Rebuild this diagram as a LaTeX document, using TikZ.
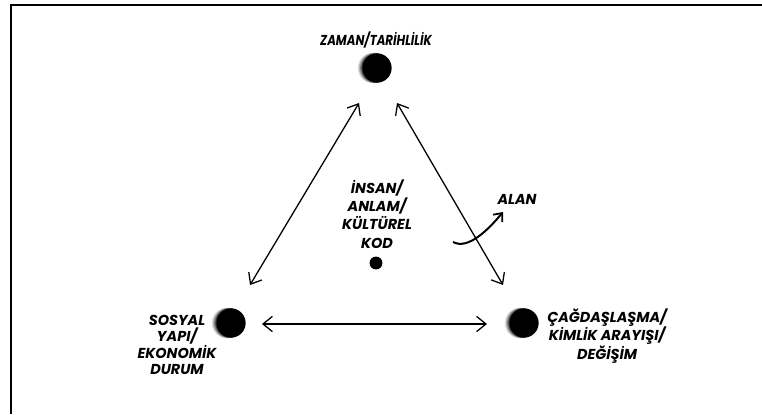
\documentclass[tikz,border=0pt]{standalone}
\usepackage{fontspec}
\setmainfont{Poppins}
\usetikzlibrary{arrows.meta}
\tikzset{
  lbl/.style={font=\fontsize{12.3}{13.3}\selectfont\bfseries\itshape, align=center, inner sep=0pt},
  biarrow/.style={line width=1.1pt, {Straight Barb[length=8pt,width=13pt,line width=1.1pt]}-{Straight Barb[length=8pt,width=13pt,line width=1.1pt]}},
  bigdot/.style={circle, fill=black, minimum size=25pt, inner sep=0pt},
}
\newcommand{\shadowdot}[2]{%
  \foreach \k/\o in {4/0.12,3/0.2,2/0.3,1/0.45}{
    \fill[black, opacity=\o] (#1-\k,#2) circle (14.5+0.2*\k);
  }
}
\begin{document}
\begin{tikzpicture}[x=0.03cm, y=-0.03cm]
\useasboundingbox (0,0) rectangle (762,414);
\draw[line width=1.6pt] (11,414) -- (11,5) -- (762,5);

% shadows
\shadowdot{377}{68}
\shadowdot{231}{323}
\shadowdot{524}{323}
\node[bigdot] (top) at (377,68) {};
\node[bigdot] (left) at (231,323) {};
\node[bigdot] (right) at (524,323) {};
\node[circle, fill=black, minimum size=11pt, inner sep=0pt] (center) at (376,263) {};

\node[lbl] (ttop) at (376,40) {\scalebox{0.82}[1]{ZAMAN/TARİHLİLİK}};
\node[lbl, font=\fontsize{12.3}{15.5}\selectfont\bfseries\itshape] (tcenter) at (377,214) {İNSAN/\\ANLAM/\\KÜLTÜREL\\KOD};
\node[lbl] (tleft) at (177,345) {SOSYAL\\YAPI/\\EKONOMİK\\DURUM};
\node[lbl] (tright) at (607,336) {ÇAĞDAŞLAŞMA/\\KİMLİK ARAYIŞI/\\DEĞİŞİM};
\node[lbl] (talan) at (517,199) {ALAN};

\coordinate (l1) at (250,285);
\coordinate (l2) at (359,103);
\coordinate (r1) at (397,103);
\coordinate (r2) at (503,285);
\coordinate (h1) at (262,324);
\coordinate (h2) at (487,324);
\draw[biarrow] (l1) -- (l2);
\draw[biarrow] (r1) -- (r2);
\draw[biarrow] (h1) -- (h2);

\coordinate (a1) at (453,242);
\coordinate (a2) at (503,212);
\draw[line width=1.7pt, -{Straight Barb[length=6pt,width=10pt,line width=1.5pt]}] (a1) .. controls (468,250) and (488,230) .. (a2);
\end{tikzpicture}
\end{document}
